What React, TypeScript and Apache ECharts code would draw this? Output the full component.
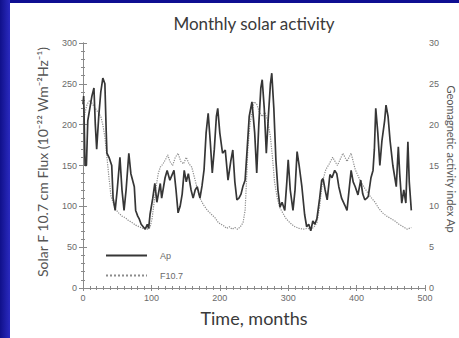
import React, { useEffect, useRef } from "react";
import * as echarts from "echarts";

// Geomagnetic Ap index (right axis) sampled by month
const apMonths = [
  0, 1, 3, 5, 7, 10, 13, 16, 18, 20, 23, 26, 29, 32, 34, 35, 38, 42, 44, 47,
  50, 54, 57, 60, 63, 67, 70, 75, 77, 80, 82, 85, 88, 91, 94, 96, 98, 102, 105, 108,
  113, 115, 120, 123, 127, 133, 136, 139, 142, 145, 148, 151, 154, 158, 161, 164, 167, 171, 174, 177,
  180, 183, 186, 189, 192, 195, 197, 200, 204, 208, 212, 216, 219, 222, 225, 228, 231, 234, 237, 240,
  243, 247, 251, 254, 257, 260, 262, 265, 268, 271, 274, 276, 279, 282, 285, 288, 291, 295, 298, 300,
  303, 307, 310, 313, 316, 320, 324, 327, 330, 333, 336, 339, 342, 346, 349, 351, 354, 357, 361, 364,
  368, 371, 374, 378, 383, 386, 389, 392, 395, 398, 402, 406, 409, 412, 415, 417, 421, 424, 426, 428,
  431, 434, 437, 441, 443, 446, 449, 453, 458, 461, 463, 466, 469, 472, 475, 477, 480,
];
const apIndex = [
  22.5, 23.5, 15.0, 15.0, 20.5, 22.0, 23.5, 24.5, 20.0, 17.0, 21.0, 24.0, 25.7, 25.0, 19.0, 16.5, 16.0, 15.0, 11.0, 9.5,
  12.0, 16.0, 12.0, 9.5, 12.0, 16.5, 14.0, 12.4, 9.5, 8.8, 8.5, 7.8, 7.5, 7.2, 7.8, 7.3, 9.0, 11.0, 12.8, 10.5,
  12.8, 11.0, 13.5, 14.4, 13.2, 14.4, 12.0, 9.2, 10.0, 11.5, 14.4, 13.0, 14.0, 12.0, 11.0, 12.0, 12.4, 11.0, 12.5, 14.5,
  19.0, 21.4, 18.0, 14.1, 17.0, 21.0, 22.0, 19.0, 16.5, 16.9, 13.2, 15.5, 16.9, 13.0, 10.8, 11.0, 11.5, 12.5, 13.2, 17.0,
  21.0, 22.8, 19.0, 14.1, 20.0, 24.5, 25.5, 22.0, 16.5, 21.0, 25.0, 26.3, 22.0, 15.7, 12.0, 9.9, 10.5, 9.5, 13.0, 15.7,
  12.0, 9.5, 12.0, 16.7, 15.0, 12.4, 9.0, 7.5, 7.8, 7.0, 8.2, 7.8, 8.5, 11.0, 13.2, 13.4, 12.0, 10.8, 13.9, 13.5,
  14.4, 14.0, 12.4, 11.0, 10.1, 9.5, 12.0, 14.4, 13.0, 12.4, 11.4, 13.2, 11.5, 10.8, 11.0, 11.2, 13.5, 14.4, 17.0, 22.0,
  19.0, 15.0, 18.0, 20.5, 22.4, 21.0, 18.0, 15.0, 12.4, 17.3, 14.0, 10.4, 12.0, 10.4, 17.9, 13.0, 9.5,
];

// Solar F10.7 radio flux (left axis) sampled by month
const fluxMonths = [
  0, 3, 6, 10, 14, 18, 22, 26, 29, 32, 35, 38, 41, 44, 47, 52, 57, 62, 66, 72,
  77, 82, 88, 94, 98, 101, 104, 107, 110, 113, 117, 121, 124, 127, 131, 135, 139, 143, 147, 151,
  155, 159, 163, 167, 171, 176, 182, 188, 193, 198, 202, 206, 210, 214, 218, 222, 226, 230, 234, 237,
  239, 241, 244, 247, 250, 254, 258, 262, 266, 270, 274, 277, 280, 284, 288, 292, 296, 300, 305, 310,
  316, 322, 328, 334, 338, 342, 346, 350, 355, 360, 365, 372, 380, 386, 392, 398, 405, 412, 420, 427,
  432, 438, 444, 450, 456, 462, 468, 474, 480,
];
const fluxValues = [
  200, 215, 225, 230, 225, 220, 215, 210, 200, 185, 160, 135, 112, 105, 97, 92, 88, 86, 83, 80,
  77, 75, 73, 72, 74, 85, 105, 125, 140, 148, 152, 158, 163, 155, 150, 160, 165, 155, 152, 160,
  152, 148, 135, 122, 110, 102, 95, 90, 86, 80, 78, 76, 73, 75, 72, 74, 72, 75, 80, 95,
  130, 170, 200, 215, 228, 225, 215, 210, 215, 205, 185, 160, 130, 110, 98, 92, 86, 82, 78, 75,
  73, 72, 73, 72, 75, 80, 100, 130, 145, 152, 160, 150, 165, 155, 165, 145, 132, 122, 112, 105,
  98, 92, 88, 85, 82, 78, 75, 72, 74,
];

const xTicks = { min: 0, max: 500, interval: 100 };
const fluxTicks = { min: 0, max: 300, interval: 50 };
const apTicks = { min: 0, max: 30, interval: 5 };

const seriesNames = ["Ap", "F10.7"];

const AXIS_GREY = "#8a8a8a";
const LABEL_GREY = "#6a6a6a";
const FONT = "'Liberation Sans Narrow', 'Liberation Sans', 'DejaVu Sans', sans-serif";

export default function App() {
  const ref = useRef<HTMLDivElement>(null);

  useEffect(() => {
    if (!ref.current) return;
    const chart = echarts.init(ref.current, undefined, { renderer: "svg" });

    const apData = apMonths.map((m, i) => [m, apIndex[i]]);
    const fluxData = fluxMonths.map((m, i) => [m, fluxValues[i]]);

    const axisLine = { show: true, lineStyle: { color: AXIS_GREY, width: 1 } };
    const axisLabel = { color: LABEL_GREY, fontSize: 9, fontFamily: FONT };

    chart.setOption({
      animation: false,
      backgroundColor: "#ffffff",
      grid: { left: 73, right: 34, top: 40, bottom: 50 },
      legend: {
        left: 90,
        top: 243,
        orient: "vertical",
        itemWidth: 41,
        itemHeight: 10,
        itemGap: 11,
        data: seriesNames,
        itemStyle: { opacity: 0 },
        textStyle: { color: LABEL_GREY, fontSize: 9, fontFamily: FONT, padding: [0, 0, 0, 8] },
      },
      xAxis: [
        {
          type: "value",
          position: "bottom",
          ...xTicks,
          axisLine,
          axisTick: { show: true, inside: true, length: 3, lineStyle: { color: AXIS_GREY } },
          minorTick: { show: true, splitNumber: 10, length: 2, lineStyle: { color: AXIS_GREY } },
          axisLabel: { ...axisLabel, margin: 5 },
          splitLine: { show: false },
        },
        {
          type: "value",
          position: "top",
          ...xTicks,
          axisLine,
          axisTick: { show: true, inside: true, length: 3, lineStyle: { color: AXIS_GREY } },
          minorTick: { show: true, splitNumber: 10, length: 2, lineStyle: { color: AXIS_GREY } },
          axisLabel: { show: false },
          splitLine: { show: false },
        },
      ],
      yAxis: [
        {
          type: "value",
          position: "left",
          ...fluxTicks,
          axisLine,
          axisTick: { show: true, length: 4, lineStyle: { color: AXIS_GREY } },
          minorTick: { show: true, splitNumber: 5, length: 2, lineStyle: { color: AXIS_GREY } },
          axisLabel: { ...axisLabel, margin: 6 },
          splitLine: { show: false },
        },
        {
          type: "value",
          position: "right",
          ...apTicks,
          axisLine,
          axisTick: { show: true, length: 4, lineStyle: { color: AXIS_GREY } },
          minorTick: { show: true, splitNumber: 5, length: 2, lineStyle: { color: AXIS_GREY } },
          axisLabel: { ...axisLabel, margin: 4 },
          splitLine: { show: false },
        },
      ],
      series: [
        {
          name: seriesNames[0],
          type: "line",
          xAxisIndex: 0,
          yAxisIndex: 1,
          data: apData,
          symbol: "none",
          showSymbol: false,
          lineStyle: { color: "#363636", width: 1.7, type: "solid" },
          itemStyle: { color: "#363636" },
          z: 3,
        },
        {
          name: seriesNames[1],
          type: "line",
          xAxisIndex: 0,
          yAxisIndex: 0,
          data: fluxData,
          symbol: "none",
          showSymbol: false,
          lineStyle: { color: "#8c8c8c", width: 1.2, type: "dotted" },
          itemStyle: { color: "#8c8c8c" },
          z: 2,
        },
      ],
      graphic: [
        {
          type: "text",
          x: 244,
          y: 20,
          style: {
            text: "Monthly solar activity",
            fill: "#3a3a3a",
            font: "17px Lato, 'Open Sans', sans-serif",
            textAlign: "center",
            textVerticalAlign: "middle",
          },
        },
        {
          type: "text",
          x: 244,
          y: 315,
          style: {
            text: "Time, months",
            fill: "#3a3a3a",
            font: "18px Lato, 'Open Sans', sans-serif",
            textAlign: "center",
            textVerticalAlign: "middle",
          },
        },
        {
          type: "text",
          x: 32,
          y: 159,
          rotation: Math.PI / 2,
          style: {
            text: "Solar F 10.7 cm Flux (10⁻²² Wm⁻²Hz⁻¹)",
            fill: "#555555",
            font: "14px Lato, 'Open Sans', sans-serif",
            textAlign: "center",
            textVerticalAlign: "middle",
          },
        },
        {
          type: "text",
          x: 441,
          y: 156,
          rotation: -Math.PI / 2,
          style: {
            text: "Geomagnetic activity index Ap",
            fill: "#555555",
            font: "11px Lato, 'Open Sans', sans-serif",
            textAlign: "center",
            textVerticalAlign: "middle",
          },
        },
      ],
    });

    return () => chart.dispose();
  }, []);

  return (
    <div
      style={{
        position: "fixed",
        left: 0,
        top: 0,
        width: 459,
        height: 338,
        background: "#0e0e92",
        overflow: "hidden",
      }}
    >
      <div
        style={{
          position: "absolute",
          left: 0,
          top: 0,
          width: 10,
          height: 338,
          background: "linear-gradient(to right, #10108a, #2a2ac0)",
        }}
      />
      <div
        ref={ref}
        style={{ position: "absolute", left: 10, top: 3, width: 449, height: 335 }}
      />
    </div>
  );
}
